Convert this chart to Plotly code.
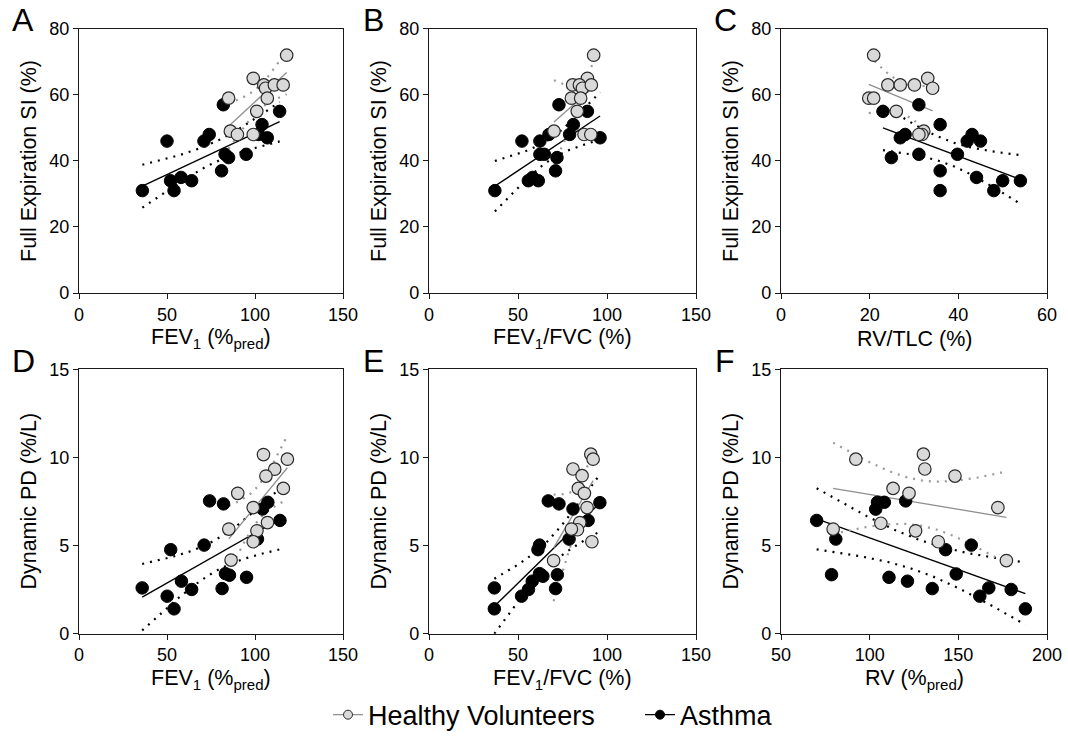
import numpy as np
import plotly.graph_objects as go

W, H = 1068, 740

# ---------------- data ----------------
# Panel A: Full Expiration SI (%) vs FEV1 (%pred)
A_hv_x = [118, 99, 105, 106, 111, 116, 85, 107, 101, 86, 90, 99]
A_hv_y = [72, 65, 63, 62, 63, 63, 59, 59, 55, 49, 48, 48]
A_as_x = [36, 50, 52, 54, 58, 64, 71, 74, 82, 81, 83, 85, 95, 104, 102, 107, 114]
A_as_y = [31, 46, 34, 31, 35, 34, 46, 48, 57, 37, 42, 41, 42, 51, 48, 47, 55]

# Panel B: Full Expiration SI (%) vs FEV1/FVC (%)
B_hv_x = [92.5, 89, 80.7, 84.5, 86.2, 91.2, 80, 85.2, 83.3, 70.2, 87.1, 90.9]
B_hv_y = [72, 65, 63, 63, 62, 63, 59, 59, 55, 49, 48, 48]
B_as_x = [37, 52.2, 55.8, 58.2, 61.4, 62.3, 62.3, 64.8, 67.4, 73, 71.9, 71.1, 81.1, 79, 89, 96.1]
B_as_y = [31, 46, 34, 35, 34, 46, 42, 42, 48, 57, 41, 37, 51, 48, 55, 47]

# Panel C: Full Expiration SI (%) vs RV/TLC (%)
C_hv_x = [20.9, 19.8, 20.9, 24.1, 26.9, 30.1, 33.1, 34.2, 26, 32.2, 31.8, 31.1]
C_hv_y = [72, 59, 59, 63, 63, 63, 65, 62, 55, 49, 48, 48]
C_as_x = [23, 31.1, 26.9, 28, 24.9, 31.1, 35.9, 35.9, 35.9, 39.8, 42, 43.1, 45, 44.1, 48, 50, 54]
C_as_y = [55, 57, 47, 48, 41, 42, 51, 37, 31, 42, 46, 48, 46, 35, 31, 34, 34]

# Panel D: Dynamic PD (%/L) vs FEV1 (%pred)
D_hv_x = [104.8, 118.4, 111.2, 106.2, 90.2, 116.1, 99, 107.1, 101.1, 85.1, 99, 86.4]
D_hv_y = [10.17, 9.91, 9.34, 8.95, 7.97, 8.25, 7.16, 6.31, 5.84, 5.94, 5.22, 4.18]
D_as_x = [35.9, 50.1, 52.1, 54, 58.2, 64, 71.1, 74.2, 82.1, 81.3, 83.2, 85.5, 95.2, 101.4, 104.3, 107.3, 114.2]
D_as_y = [2.6, 2.13, 4.77, 1.41, 2.98, 2.51, 5.03, 7.54, 7.37, 2.56, 3.41, 3.32, 3.2, 5.37, 7.08, 7.46, 6.43]

# Panel E: Dynamic PD (%/L) vs FEV1/FVC (%)
E_hv_x = [90.9, 92.2, 80.9, 86, 83.9, 87.3, 88.8, 84.7, 83.4, 80, 91.5, 70]
E_hv_y = [10.19, 9.91, 9.35, 8.97, 8.25, 7.97, 7.16, 6.31, 5.9, 5.94, 5.22, 4.15]
E_as_x = [36.7, 36.7, 52, 55.9, 58, 61.2, 62.1, 62.1, 64, 67, 73, 72.1, 71.1, 80.9, 78.7, 89.4, 96]
E_as_y = [2.6, 1.41, 2.13, 2.51, 2.98, 4.77, 5.03, 3.41, 3.26, 7.54, 7.37, 3.35, 2.56, 7.08, 5.37, 6.43, 7.44]

# Panel F: Dynamic PD (%/L) vs RV (%pred)
F_hv_x = [92.2, 130.3, 131.1, 148.1, 113.2, 122.2, 172.3, 106.3, 79.4, 125.9, 138.7, 177.1]
F_hv_y = [9.91, 10.19, 9.35, 8.95, 8.25, 7.97, 7.16, 6.27, 5.94, 5.84, 5.22, 4.15]
F_as_x = [70.1, 80.9, 78.5, 103.4, 104.4, 108.3, 120.3, 110.9, 121.3, 135.3, 142.8, 157.3, 148.8, 162.1, 167.2, 179.8, 187.8]
F_as_y = [6.43, 5.37, 3.35, 7.07, 7.46, 7.46, 7.54, 3.2, 2.98, 2.56, 4.77, 5.03, 3.39, 2.13, 2.6, 2.51, 1.41]

panel_letters = ["A", "B", "C", "D", "E", "F"]
x_titles = ["FEV<sub>1</sub> (%<sub>pred</sub>)", "FEV<sub>1</sub>/FVC (%)", "RV/TLC (%)",
            "FEV<sub>1</sub> (%<sub>pred</sub>)", "FEV<sub>1</sub>/FVC (%)", "RV (%<sub>pred</sub>)"]
y_titles = ["Full Expiration SI (%)"] * 3 + ["Dynamic PD (%/L)"] * 3
x_ranges = [[0, 150], [0, 150], [0, 60], [0, 150], [0, 150], [50, 200]]
x_ticks = [[0, 50, 100, 150], [0, 50, 100, 150], [0, 20, 40, 60],
           [0, 50, 100, 150], [0, 50, 100, 150], [50, 100, 150, 200]]
y_ranges = [[0, 80]] * 3 + [[0, 15]] * 3
y_ticks = [[0, 20, 40, 60, 80]] * 3 + [[0, 5, 10, 15]] * 3
legend_names = ["Healthy Volunteers", "Asthma"]

series = [
    (A_hv_x, A_hv_y, A_as_x, A_as_y),
    (B_hv_x, B_hv_y, B_as_x, B_as_y),
    (C_hv_x, C_hv_y, C_as_x, C_as_y),
    (D_hv_x, D_hv_y, D_as_x, D_as_y),
    (E_hv_x, E_hv_y, E_as_x, E_as_y),
    (F_hv_x, F_hv_y, F_as_x, F_as_y),
]

# two-sided 95% t critical values by degrees of freedom
T_CRIT = {10: 2.228, 11: 2.201, 13: 2.160, 14: 2.145, 15: 2.131}


def linfit(x, y):
    x = np.asarray(x, float)
    y = np.asarray(y, float)
    n = len(x)
    b, a = np.polyfit(x, y, 1)
    xs = np.linspace(x.min(), x.max(), 80)
    yh = a + b * xs
    res = y - (a + b * x)
    s = np.sqrt((res ** 2).sum() / (n - 2))
    sxx = ((x - x.mean()) ** 2).sum()
    se = s * np.sqrt(1.0 / n + (xs - x.mean()) ** 2 / sxx)
    t = T_CRIT[n - 2]
    return xs, yh, yh - t * se, yh + t * se


# ---------------- layout geometry (pixels) ----------------
cols = [(79, 343), (429, 696), (781, 1047)]
rows = [(29, 295), (372, 638)]

FONT = "Liberation Sans, Arial, sans-serif"
HV_FILL = "#d9d9d9"
HV_LINE = "#8f8f8f"
HV_DOT = "#9a9a9a"
AXC = "#1a1a1a"

fig = go.Figure()
annotations = []
layout_axes = {}

for i in range(6):
    r, c = divmod(i, 3)
    l, rr = cols[c]
    t, b = rows[r]
    k = "" if i == 0 else str(i + 1)
    xa, ya = "x" + k, "y" + k
    hx, hy, ax_, ay_ = series[i]

    common = dict(showline=True, linecolor=AXC, linewidth=1.3, mirror=True,
                  ticks="outside", ticklen=5, tickwidth=1.3, tickcolor=AXC,
                  showgrid=False, zeroline=False, automargin=False,
                  tickfont=dict(family=FONT, size=18, color="black"))
    layout_axes["xaxis" + k] = dict(common, domain=[l / W, rr / W], range=x_ranges[i],
                                     tickvals=x_ticks[i], anchor=ya)
    layout_axes["yaxis" + k] = dict(common, domain=[1 - b / H, 1 - t / H], range=y_ranges[i],
                                     tickvals=y_ticks[i], anchor=xa)

    # fits and 95% confidence bands (drawn beneath markers)
    for gx, gy, lc, dc, lw in [(ax_, ay_, "black", "black", 1.4),
                               (hx, hy, HV_LINE, HV_DOT, 1.3)]:
        xs, yh, lo, hi = linfit(gx, gy)
        for band in (lo, hi):
            fig.add_trace(go.Scatter(x=xs, y=band, mode="lines", xaxis=xa, yaxis=ya,
                                     line=dict(color=dc, width=2.2, dash="2px,6px"),
                                     showlegend=False, hoverinfo="skip"))
        fig.add_trace(go.Scatter(x=xs, y=yh, mode="lines", xaxis=xa, yaxis=ya,
                                 line=dict(color=lc, width=lw),
                                 showlegend=False, hoverinfo="skip"))

    fig.add_trace(go.Scatter(x=ax_, y=ay_, mode="markers", xaxis=xa, yaxis=ya,
                             marker=dict(size=12.5, color="black",
                                         line=dict(color="black", width=1)),
                             showlegend=False, cliponaxis=False))
    fig.add_trace(go.Scatter(x=hx, y=hy, mode="markers", xaxis=xa, yaxis=ya,
                             marker=dict(size=12.5, color=HV_FILL,
                                         line=dict(color="#2a2a2a", width=1.2)),
                             showlegend=False, cliponaxis=False))

    # panel letter
    annotations.append(dict(text=panel_letters[i], xref="paper", yref="paper",
                            x=(l - 56) / W, y=1 - (t - 9) / H, xanchor="center", yanchor="middle",
                            showarrow=False, font=dict(family=FONT, size=32, color="black")))
    # x-axis title
    annotations.append(dict(text=x_titles[i], xref="paper", yref="paper",
                            x=(l + rr) / 2 / W, y=1 - (b + 46) / H, xanchor="center",
                            yanchor="middle", showarrow=False,
                            font=dict(family=FONT, size=21.5, color="black")))
    # y-axis title
    annotations.append(dict(text=y_titles[i], xref="paper", yref="paper",
                            x=(l - 50) / W, y=1 - (t + b) / 2 / H, xanchor="center",
                            yanchor="middle", textangle=-90, showarrow=False,
                            font=dict(family=FONT, size=21.5, color="black")))

# legend entries (two legends, to place the items as in the reference)
fig.add_trace(go.Scatter(x=[None], y=[None], mode="lines+markers", name=legend_names[0],
                         legend="legend",
                         line=dict(color=HV_LINE, width=1.3),
                         marker=dict(size=9, color=HV_FILL, line=dict(color="#2a2a2a", width=1))))
fig.add_trace(go.Scatter(x=[None], y=[None], mode="lines+markers", name=legend_names[1],
                         legend="legend2",
                         line=dict(color="black", width=1.3),
                         marker=dict(size=9, color="black", line=dict(color="black", width=1))))

leg_common = dict(orientation="h", xanchor="left", yanchor="middle", y=1 - 720 / H,
                  font=dict(family=FONT, size=27, color="black"),
                  itemwidth=30, bgcolor="rgba(0,0,0,0)")

fig.update_layout(
    width=W, height=H,
    margin=dict(l=0, r=0, t=0, b=0),
    paper_bgcolor="white", plot_bgcolor="white",
    font=dict(family=FONT, color="black"),
    showlegend=True,
    legend=dict(leg_common, x=328 / W),
    legend2=dict(leg_common, x=640 / W),
    annotations=annotations,
    **layout_axes,
)

fig.write_html("out.html")
